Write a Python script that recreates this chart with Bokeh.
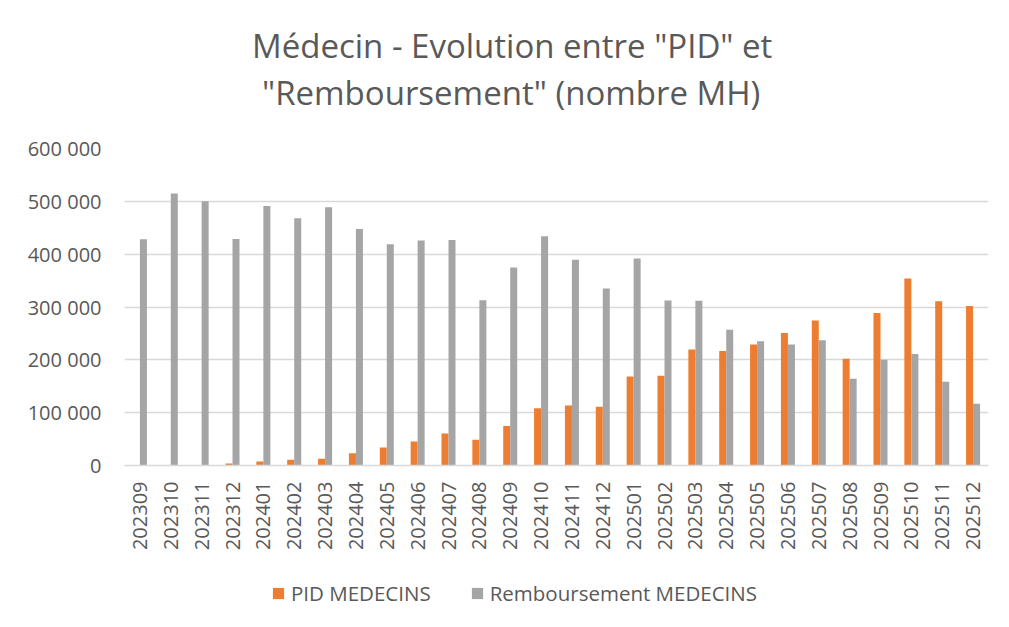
import math
from bokeh.plotting import figure
from bokeh.layouts import column
from bokeh.models import (FactorRange, Range1d, FixedTicker, Legend, LegendItem,
                          Title, ColumnDataSource)
from bokeh.transform import dodge
from bokeh.embed import file_html
from bokeh.resources import INLINE

months = ["202309", "202310", "202311", "202312",
          "202401", "202402", "202403", "202404", "202405", "202406",
          "202407", "202408", "202409", "202410", "202411", "202412",
          "202501", "202502", "202503", "202504", "202505", "202506",
          "202507", "202508", "202509", "202510", "202511", "202512"]

pid_medecins = [0, 0, 0, 4000,
                7600, 11000, 13000, 23000, 34000, 45500,
                60600, 48600, 75000, 108500, 113600, 111000,
                168600, 170000, 219700, 216500, 229000, 251000,
                274600, 202000, 288500, 354000, 311000, 302000]

remboursement_medecins = [428000, 515000, 500000, 428600,
                          491000, 468000, 488600, 447600, 419000, 426000,
                          427000, 313000, 375000, 434000, 389600, 335000,
                          392000, 312500, 312000, 257000, 235000, 229000,
                          237000, 164000, 200000, 211000, 158500, 117000]

y_ticks = [0, 100000, 200000, 300000, 400000, 500000, 600000]
y_tick_labels = ["0", "100 000", "200 000", "300 000", "400 000", "500 000", "600 000"]

series_names = ["PID MEDECINS", "Remboursement MEDECINS"]
title_lines = ["Médecin - Evolution entre \"PID\" et", "\"Remboursement\" (nombre MH)"]

ORANGE = "#ED7D31"
GRAY = "#A5A5A5"
TEXT = "#595959"
GRID = "#D9D9D9"
FONT = "Open Sans"

src = ColumnDataSource(dict(month=months, pid=pid_medecins, remb=remboursement_medecins))

p = figure(x_range=FactorRange(*months, range_padding=0),
           y_range=Range1d(0, 600000),
           width=993, height=560,
           min_border_left=124, min_border_right=5,
           min_border_top=148, min_border_bottom=95,
           output_backend="svg", toolbar_location=None, tools="")

bw = 0.227
p.vbar(x=dodge("month", -bw / 2, range=p.x_range), top="pid", width=bw,
       source=src, fill_color=ORANGE, line_color=None)
p.vbar(x=dodge("month", bw / 2, range=p.x_range), top="remb", width=bw,
       source=src, fill_color=GRAY, line_color=None)

p.outline_line_color = None
p.background_fill_color = "white"
p.border_fill_color = "white"

# y axis
p.yaxis.ticker = FixedTicker(ticks=y_ticks)
p.yaxis.major_label_overrides = {t: l for t, l in zip(y_ticks, y_tick_labels)}
p.yaxis.axis_line_color = None
p.yaxis.major_tick_line_color = None
p.yaxis.minor_tick_line_color = None
p.yaxis.major_tick_out = 0
p.yaxis.major_tick_in = 0
p.yaxis.major_label_standoff = 23
p.yaxis.major_label_text_font = FONT
p.yaxis.major_label_text_font_size = "20px"
p.yaxis.major_label_text_color = TEXT

# x axis
p.xaxis.axis_line_color = GRID
p.xaxis.axis_line_width = 1.3
p.xaxis.major_tick_line_color = None
p.xaxis.minor_tick_line_color = None
p.xaxis.major_tick_out = 0
p.xaxis.major_tick_in = 0
p.xaxis.major_label_orientation = math.pi / 2
p.xaxis.major_label_standoff = 16
p.xaxis.major_label_text_font = FONT
p.xaxis.major_label_text_font_size = "20px"
p.xaxis.major_label_text_color = TEXT

p.xgrid.grid_line_color = None
p.ygrid.ticker = FixedTicker(ticks=y_ticks)
p.ygrid.grid_line_color = GRID
p.ygrid.grid_line_width = 1.3

# title: spacer nearest the frame, then line 2, then line 1
p.add_layout(Title(text=" ", text_font_size="1px", standoff=31), "above")
p.add_layout(Title(text=title_lines[1], align="left", offset=137.5, standoff=0,
                   vertical_align="bottom", text_font=FONT, text_font_size="33px",
                   text_font_style="normal", text_color=TEXT), "above")
p.add_layout(Title(text=title_lines[0], align="left", offset=127.5, standoff=0,
                   vertical_align="bottom", text_font=FONT, text_font_size="33px",
                   text_font_style="normal", text_color=TEXT), "above")

# legend strip below the chart (swatch renderers hidden, legend shows them normally)
lg = figure(x_range=p.x_range, y_range=Range1d(0, 600000),
            width=993, height=51, min_border=0,
            x_axis_location=None, y_axis_location=None,
            output_backend="svg", toolbar_location=None, tools="")
lg.grid.visible = False
lg.outline_line_color = None
lg.background_fill_color = "white"
lg.border_fill_color = "white"
l1 = lg.vbar(x=dodge("month", -bw / 2, range=lg.x_range), top="pid", width=bw,
             source=src, fill_color=ORANGE, line_color=None, visible=False)
l2 = lg.vbar(x=dodge("month", bw / 2, range=lg.x_range), top="remb", width=bw,
             source=src, fill_color=GRAY, line_color=None, visible=False)

legend = Legend(items=[LegendItem(label=series_names[0], renderers=[l1]),
                       LegendItem(label=series_names[1], renderers=[l2])],
                orientation="horizontal", location=(147, 4),
                glyph_width=14, glyph_height=14, label_standoff=6, spacing=39,
                padding=0, margin=0, border_line_color=None,
                background_fill_alpha=0, inactive_fill_alpha=0,
                label_text_font=FONT, label_text_font_size="20.5px",
                label_text_color=TEXT)
lg.add_layout(legend, "center")

layout = column(p, lg, spacing=0)
open("out.html", "w").write(file_html(layout, INLINE))
